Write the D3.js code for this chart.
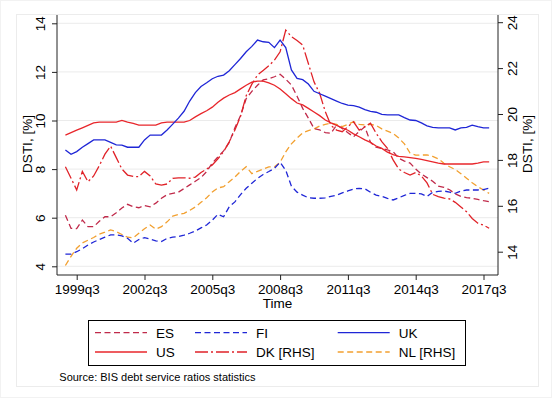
<!DOCTYPE html>
<html>
<head>
<meta charset="utf-8">
<script src="https://cdn.jsdelivr.net/npm/d3@7"></script>
<style>
  body { margin: 0; background: #fff; }
  svg text { font-family: "Liberation Sans", Arial, sans-serif; fill: #000; }
</style>
</head>
<body>
<div id="chart"></div>
<script>
// quarters run 1999q1 .. 2017q4 (index 0..75)
const tickIdx = [2, 14, 26, 38, 50, 62, 74];
const tickLabels = ["1999q3", "2002q3", "2005q3", "2008q3", "2011q3", "2014q3", "2017q3"];
const leftTicks = [4, 6, 8, 10, 12, 14];
const rightTicks = [14, 16, 18, 20, 22, 24];

// left axis series
const es = [6.1, 5.56, 5.55, 5.9, 5.63, 5.63, 5.85, 6.04, 6.04, 6.2, 6.4, 6.55, 6.45, 6.41, 6.5, 6.45,
  6.6, 6.8, 6.95, 7.0, 7.05, 7.2, 7.35, 7.5, 7.65, 7.9, 8.25, 8.5, 8.75, 9.1, 9.7, 10.2,
  10.9, 11.2, 11.45, 11.67, 11.72, 11.8, 11.9, 11.7, 11.46, 11.0, 10.5, 10.1, 9.67, 9.61, 9.5, 9.47,
  9.81, 9.67, 9.5, 9.33, 9.55, 9.74, 9.1, 8.9, 8.85, 8.79, 8.72, 8.45, 8.33, 8.25, 8.0, 7.8,
  7.65, 7.5, 7.3, 7.25, 7.15, 6.98, 6.88, 6.83, 6.8, 6.75, 6.7, 6.66];
const fi = [4.5, 4.5, 4.6, 4.72, 4.88, 5.0, 5.1, 5.2, 5.29, 5.29, 5.25, 5.15, 4.95, 5.1, 5.18, 5.12,
  5.05, 5.02, 5.15, 5.2, 5.22, 5.28, 5.36, 5.45, 5.58, 5.7, 5.9, 6.14, 6.04, 6.45, 6.65, 6.95,
  7.21, 7.42, 7.62, 7.78, 7.9, 8.03, 8.28, 7.95, 7.3, 7.05, 6.93, 6.82, 6.8, 6.8, 6.82, 6.88,
  6.93, 7.02, 7.1, 7.18, 7.21, 7.19, 7.05, 6.93, 6.88, 6.8, 6.73, 6.82, 6.92, 7.0, 7.0, 6.98,
  6.87, 7.05, 7.08, 7.1, 7.05, 7.0, 7.1, 7.14, 7.14, 7.14, 7.16, 7.21];
const uk = [8.79, 8.61, 8.72, 8.9, 9.05, 9.2, 9.2, 9.2, 9.1, 9.0, 8.99, 8.9, 8.9, 8.9, 9.2, 9.4,
  9.4, 9.4, 9.61, 9.85, 10.1, 10.38, 10.8, 11.15, 11.4, 11.55, 11.72, 11.82, 11.87, 12.05, 12.3, 12.55,
  12.83, 13.05, 13.31, 13.24, 13.22, 13.0, 13.31, 13.0, 12.08, 11.73, 11.68, 11.5, 11.2, 11.1, 11.0, 10.9,
  10.8, 10.7, 10.63, 10.61, 10.55, 10.45, 10.38, 10.34, 10.25, 10.23, 10.23, 10.23, 10.12, 10.02, 10.0, 9.9,
  9.78, 9.72, 9.7, 9.7, 9.7, 9.61, 9.7, 9.72, 9.81, 9.75, 9.7, 9.7];
const us = [9.4, 9.5, 9.6, 9.7, 9.8, 9.9, 9.93, 9.93, 9.93, 9.93, 10.0, 9.93, 9.88, 9.81, 9.81, 9.81,
  9.81, 9.9, 9.93, 9.93, 9.93, 9.93, 10.0, 10.15, 10.28, 10.4, 10.55, 10.75, 10.92, 11.05, 11.15, 11.3,
  11.45, 11.58, 11.62, 11.62, 11.55, 11.45, 11.3, 11.1, 10.9, 10.72, 10.64, 10.5, 10.35, 10.2, 10.02, 9.9,
  9.8, 9.7, 9.6, 9.45, 9.33, 9.2, 9.1, 8.95, 8.85, 8.7, 8.6, 8.52, 8.5, 8.47, 8.44, 8.4,
  8.35, 8.3, 8.25, 8.21, 8.21, 8.21, 8.21, 8.21, 8.21, 8.25, 8.3, 8.3];
// right axis series
const dk = [17.7, 17.2, 16.69, 17.5, 17.05, 17.3, 17.75, 18.25, 18.6, 18.1, 17.6, 17.34, 17.28, 17.27, 17.5, 17.3,
  16.95, 16.9, 16.95, 17.2, 17.22, 17.22, 17.2, 17.25, 17.45, 17.6, 17.78, 18.05, 18.36, 18.79, 19.3, 19.9,
  20.8, 21.3, 21.7, 21.9, 22.1, 22.35, 22.71, 23.66, 23.37, 23.2, 23.0, 22.2, 21.4, 20.9, 20.1, 19.5,
  19.3, 19.23, 19.45, 19.66, 19.3, 19.45, 19.6, 19.16, 18.8, 18.5, 18.0, 17.6, 17.45, 17.34, 17.45, 17.3,
  17.0, 16.5, 16.4, 16.33, 16.3, 16.15, 15.95, 15.74, 15.45, 15.24, 15.16, 15.02];
const nl = [13.4, 13.8, 14.15, 14.38, 14.5, 14.62, 14.76, 14.85, 14.95, 14.87, 14.75, 14.63, 14.6, 14.8, 15.0, 15.16,
  14.98, 15.09, 15.3, 15.55, 15.62, 15.67, 15.8, 15.95, 16.15, 16.35, 16.6, 16.78, 16.83, 17.05, 17.25, 17.5,
  17.7, 17.4, 17.5, 17.6, 17.7, 17.7, 17.9, 18.35, 18.7, 18.95, 19.18, 19.28, 19.35, 19.48, 19.55, 19.6,
  19.55, 19.45, 19.55, 19.66, 19.55, 19.52, 19.55, 19.5, 19.35, 19.25, 19.15, 18.95, 18.7, 18.3, 18.21, 18.21,
  18.22, 18.15, 18.05, 17.85, 17.7, 17.58, 17.4, 17.2, 17.0, 16.83, 16.69, 16.54];

const width = 558, height = 400;
const svg = d3.select('#chart').append('svg')
    .attr('width', width)
    .attr('height', height);

// outer frames
svg.append('rect').attr('x', 0.5).attr('y', 0.5).attr('width', 551).attr('height', 397)
    .attr('fill', 'none').attr('stroke', '#f2f2f2');
svg.append('rect').attr('x', 16.5).attr('y', 14.5).attr('width', 522).attr('height', 372)
    .attr('fill', 'none').attr('stroke', '#ececec');

const plot = { left: 57, right: 498, top: 15, bottom: 275 };

const x = d3.scaleLinear().domain([0, 75]).range([65.4, 489.15]);
const yL = d3.scaleLinear().domain([4, 14]).range([266.3, 23.3]);
const yR = d3.scaleLinear().domain([14, 24]).range([251.7, 22.2]);

// gridlines
svg.append('g')
  .selectAll('line')
  .data(leftTicks)
  .join('line')
    .attr('x1', plot.left).attr('x2', plot.right)
    .attr('y1', d => yL(d)).attr('y2', d => yL(d))
    .attr('stroke', '#ebebeb').attr('stroke-width', 1);

// left axis
const gL = svg.append('g')
    .attr('transform', `translate(${plot.left},0)`)
    .call(d3.axisLeft(yL).tickValues(leftTicks).tickSize(5));
gL.select('.domain').attr('d', `M0,${plot.top}V${plot.bottom}`).attr('stroke', '#222');
gL.selectAll('.tick line').attr('stroke', '#222');
gL.selectAll('.tick text')
    .attr('font-size', '13.5px')
    .attr('text-anchor', 'middle')
    .attr('x', 0).attr('dy', 0).attr('y', 0)
    .attr('transform', 'translate(-12,0) rotate(-90)');

// right axis
const gR = svg.append('g')
    .attr('transform', `translate(${plot.right},0)`)
    .call(d3.axisRight(yR).tickValues(rightTicks).tickSize(5));
gR.select('.domain').attr('d', `M0,${plot.top}V${plot.bottom}`).attr('stroke', '#222');
gR.selectAll('.tick line').attr('stroke', '#222');
gR.selectAll('.tick text')
    .attr('font-size', '13.5px')
    .attr('text-anchor', 'middle')
    .attr('x', 0).attr('dy', 0).attr('y', 0)
    .attr('transform', 'translate(18.5,0) rotate(-90)');

// bottom axis
const gB = svg.append('g')
    .attr('transform', `translate(0,${plot.bottom})`)
    .call(d3.axisBottom(x).tickValues(tickIdx).tickFormat((d, i) => tickLabels[i]).tickSize(5).tickPadding(4));
gB.select('.domain').attr('d', `M${plot.left},0H${plot.right}`).attr('stroke', '#222');
gB.selectAll('.tick line').attr('stroke', '#222');
gB.selectAll('.tick text').attr('font-size', '13.5px');

// axis titles
svg.append('text')
    .attr('transform', `translate(31.5,144) rotate(-90)`)
    .attr('text-anchor', 'middle')
    .attr('font-size', '13.5px')
    .text('DSTI, [%]');
svg.append('text')
    .attr('transform', `translate(532,144) rotate(-90)`)
    .attr('text-anchor', 'middle')
    .attr('font-size', '13.5px')
    .text('DSTI, [%]');
svg.append('text')
    .attr('x', (plot.left + plot.right) / 2).attr('y', 308)
    .attr('text-anchor', 'middle')
    .attr('font-size', '13.5px')
    .text('Time');

// series
const series = [
  { name: 'ES', data: es, axis: yL, color: '#c02a4a', dash: '6,3.5' },
  { name: 'FI', data: fi, axis: yL, color: '#1f26d6', dash: '6,3.5' },
  { name: 'UK', data: uk, axis: yL, color: '#1f26d6', dash: null },
  { name: 'US', data: us, axis: yL, color: '#e8262b', dash: null },
  { name: 'DK [RHS]', data: dk, axis: yR, color: '#e02228', dash: '13,3,2,3' },
  { name: 'NL [RHS]', data: nl, axis: yR, color: '#f2a030', dash: '6,3.5' }
];

const drawOrder = ['NL [RHS]', 'FI', 'ES', 'DK [RHS]', 'US', 'UK'];
drawOrder.forEach(n => {
  const s = series.find(d => d.name === n);
  const line = d3.line()
      .x((d, i) => x(i))
      .y(d => s.axis(d));
  svg.append('path')
      .datum(s.data)
      .attr('fill', 'none')
      .attr('stroke', s.color)
      .attr('stroke-width', 1.3)
      .attr('stroke-dasharray', s.dash)
      .attr('d', line);
});

// legend
const legend = svg.append('g');
legend.append('rect')
    .attr('x', 88.5).attr('y', 320.5).attr('width', 377).attr('height', 45)
    .attr('fill', '#fff').attr('stroke', '#000');
const colX = [95, 195, 337.7];
const rowY = [332.7, 352];
series.forEach((s, i) => {
  const cx = colX[i % 3], cy = rowY[Math.floor(i / 3)];
  legend.append('line')
      .attr('x1', cx).attr('x2', cx + 52)
      .attr('y1', cy).attr('y2', cy)
      .attr('stroke', s.color)
      .attr('stroke-width', 1.3)
      .attr('stroke-dasharray', s.dash);
  legend.append('text')
      .attr('x', cx + 61).attr('y', cy + 5)
      .attr('font-size', '13.5px')
      .text(s.name);
});

// source note
svg.append('text')
    .attr('x', 59.3).attr('y', 381)
    .attr('font-size', '11px')
    .text('Source: BIS debt service ratios statistics');
</script>
</body>
</html>
